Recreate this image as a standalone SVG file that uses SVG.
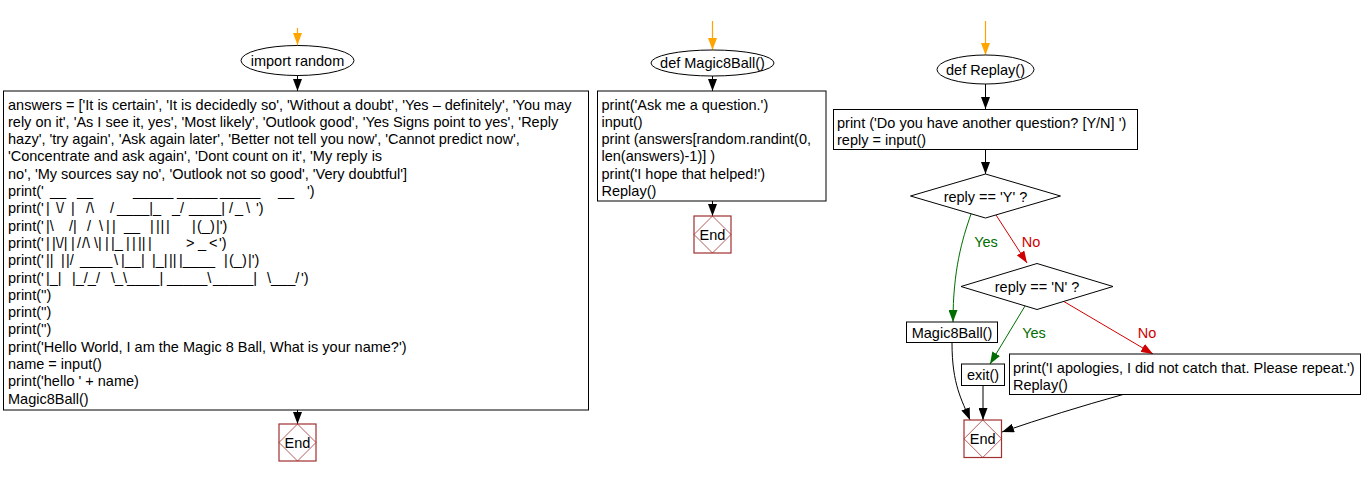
<svg xmlns="http://www.w3.org/2000/svg" width="1369" height="477" viewBox="0 0 1369 477">
<style>
text{font-family:"Liberation Sans",Arial,sans-serif;font-size:14.5px;fill:#000;white-space:pre}
.c{text-anchor:middle}
.box{fill:#fff;stroke:#000;stroke-width:1}
.end{fill:#fff;stroke:#a03030;stroke-width:1.2}
.endd{fill:none;stroke:#a03030;stroke-width:0.8}
.k{fill:none;stroke:#000;stroke-width:1}
.o{fill:none;stroke:#ffa500;stroke-width:1.2}
.g{fill:none;stroke:#006e00;stroke-width:1}
.r{fill:none;stroke:#d00000;stroke-width:1}
.gt{fill:#006e00}
.rt{fill:#d00000}
</style>
<defs>
<marker id="mk" viewBox="0 0 12 9" refX="12" refY="4.5" markerWidth="12" markerHeight="9" markerUnits="userSpaceOnUse" orient="auto"><path d="M0,0 L12,4.5 L0,9 z" fill="#000"/></marker>
<marker id="mo" viewBox="0 0 12 9" refX="12" refY="4.5" markerWidth="12" markerHeight="9" markerUnits="userSpaceOnUse" orient="auto"><path d="M0,0 L12,4.5 L0,9 z" fill="#ffa500"/></marker>
<marker id="mg" viewBox="0 0 12 9" refX="12" refY="4.5" markerWidth="12" markerHeight="9" markerUnits="userSpaceOnUse" orient="auto"><path d="M0,0 L12,4.5 L0,9 z" fill="#006e00"/></marker>
<marker id="mr" viewBox="0 0 12 9" refX="12" refY="4.5" markerWidth="12" markerHeight="9" markerUnits="userSpaceOnUse" orient="auto"><path d="M0,0 L12,4.5 L0,9 z" fill="#d00000"/></marker>
</defs>
<rect width="1369" height="477" fill="#fff"/>

<g id="connectors">
<path class="o" d="M297.5,28 L297.5,45" marker-end="url(#mo)"/>
<path class="k" d="M297.5,75 L297.5,91" marker-end="url(#mk)"/>
<path class="k" d="M297.5,410 L297.5,424" marker-end="url(#mk)"/>
<path class="o" d="M712.5,21 L712.5,50" marker-end="url(#mo)"/>
<path class="k" d="M712.5,76 L712.5,91" marker-end="url(#mk)"/>
<path class="k" d="M712.5,201 L712.5,216" marker-end="url(#mk)"/>
<path class="o" d="M985.5,21 L985.5,55" marker-end="url(#mo)"/>
<path class="k" d="M985.5,84 L985.5,109" marker-end="url(#mk)"/>
<path class="k" d="M985.5,149 L985.5,174" marker-end="url(#mk)"/>
<path class="g" d="M971,214 C962,240 953,270 953,322" marker-end="url(#mg)"/>
<path class="r" d="M996,215 L1027,263" marker-end="url(#mr)"/>
<path class="g" d="M1025,306 L990,364" marker-end="url(#mg)"/>
<path class="r" d="M1063,301 L1153,354" marker-end="url(#mr)"/>
<path class="k" d="M952,343 C952,385 962,400 970,420" marker-end="url(#mk)"/>
<path class="k" d="M983,385.5 L983,420" marker-end="url(#mk)"/>
<path class="k" d="M1123,394.5 Q1060,412 1002,432" marker-end="url(#mk)"/>
<text class="c gt" x="986" y="247">Yes</text>
<text class="c rt" x="1031" y="247">No</text>
<text class="c gt" x="1034" y="338">Yes</text>
<text class="c rt" x="1147" y="338">No</text>
</g>

<g id="import_random">
<ellipse class="box" cx="297.5" cy="60.5" rx="56.5" ry="15"/>
<text class="c" x="297.5" y="66">import random</text>
</g>

<g id="main_code">
<rect class="box" x="3.5" y="91" width="585" height="319"/>
<text x="8" y="109.5">answers = ['It is certain', 'It is decidedly so', 'Without a doubt', 'Yes – definitely', 'You may</text>
<text x="8" y="126.8">rely on it', 'As I see it, yes', 'Most likely', 'Outlook good', 'Yes Signs point to yes', 'Reply</text>
<text x="8" y="144.1">hazy', 'try again', 'Ask again later', 'Better not tell you now', 'Cannot predict now',</text>
<text x="8" y="161.4">'Concentrate and ask again', 'Dont count on it', 'My reply is</text>
<text x="8" y="178.7">no', 'My sources say no', 'Outlook not so good', 'Very doubtful']</text>
<text y="196"><tspan x="8">print('</tspan><tspan x="50">__</tspan><tspan x="77">__</tspan><tspan x="133">_____</tspan><tspan x="177">_____</tspan><tspan x="220">_____</tspan><tspan x="278">__</tspan><tspan x="307">')</tspan></text>
<text y="213.3"><tspan x="8">print('</tspan><tspan x="46">|</tspan><tspan x="56">\/</tspan><tspan x="71">|</tspan><tspan x="86">/\</tspan><tspan x="110">/</tspan><tspan x="117">____|_</tspan><tspan x="172">_/</tspan><tspan x="189">____|</tspan><tspan x="229">/</tspan><tspan x="235">_</tspan><tspan x="246">\</tspan><tspan x="256">')</tspan></text>
<text y="230.6"><tspan x="8">print('</tspan><tspan x="46">|\</tspan><tspan x="69">/|</tspan><tspan x="87">/</tspan><tspan x="99">\</tspan><tspan x="106">|</tspan><tspan x="112">|</tspan><tspan x="124">__</tspan><tspan x="150">|</tspan><tspan x="156">|</tspan><tspan x="160.5">|</tspan><tspan x="166">|</tspan><tspan x="192">|</tspan><tspan x="197">(_)</tspan><tspan x="216">|')</tspan></text>
<text y="247.9"><tspan x="8">print('</tspan><tspan x="46">|</tspan><tspan x="52">|\/|</tspan><tspan x="71">|</tspan><tspan x="77">/</tspan><tspan x="82">/\</tspan><tspan x="94">\|</tspan><tspan x="105">|</tspan><tspan x="111">|_</tspan><tspan x="126">|</tspan><tspan x="132">|</tspan><tspan x="138">||</tspan><tspan x="148">|</tspan><tspan x="186">&gt;</tspan><tspan x="198">_</tspan><tspan x="209">&lt;</tspan><tspan x="219">')</tspan></text>
<text y="265.2"><tspan x="8">print('</tspan><tspan x="46">||</tspan><tspan x="61">|</tspan><tspan x="66">|/</tspan><tspan x="80">____</tspan><tspan x="114">\</tspan><tspan x="121">|__|</tspan><tspan x="152">|_|</tspan><tspan x="169">||</tspan><tspan x="179">|____</tspan><tspan x="224">|</tspan><tspan x="229">(_)</tspan><tspan x="248">|')</tspan></text>
<text y="282.5"><tspan x="8">print('</tspan><tspan x="46">|_|</tspan><tspan x="72">|_/_/</tspan><tspan x="111">\_\____|</tspan><tspan x="167">_____\</tspan><tspan x="213">_____|</tspan><tspan x="267">\___/</tspan><tspan x="301">')</tspan></text>
<text x="8" y="299.8">print('')</text>
<text x="8" y="317.1">print('')</text>
<text x="8" y="334.4">print('')</text>
<text x="8" y="351.7">print('Hello World, I am the Magic 8 Ball, What is your name?')</text>
<text x="8" y="369">name = input()</text>
<text x="8" y="386.3">print('hello ' + name)</text>
<text x="8" y="403.6">Magic8Ball()</text>
</g>

<g id="end1">
<rect class="end" x="279" y="424" width="37" height="37"/>
<path class="endd" d="M297.5,424 L316,442.5 L297.5,461 L279,442.5 Z"/>
<text class="c" x="297.5" y="448">End</text>
</g>

<g id="def_magic8ball">
<ellipse class="box" cx="712.5" cy="63" rx="61.5" ry="13"/>
<text class="c" x="712.5" y="68">def Magic8Ball()</text>
</g>

<g id="magic8ball_code">
<rect class="box" x="597.5" y="91" width="228.5" height="110"/>
<text x="601.5" y="109.5">print('Ask me a question.')</text>
<text x="601.5" y="126.8">input()</text>
<text x="601.5" y="144.1">print (answers[random.randint(0,</text>
<text x="601.5" y="161.4">len(answers)-1)] )</text>
<text x="601.5" y="178.7">print('I hope that helped!')</text>
<text x="601.5" y="196">Replay()</text>
</g>

<g id="end2">
<rect class="end" x="694" y="216" width="37" height="37"/>
<path class="endd" d="M712.5,216 L731,234.5 L712.5,253 L694,234.5 Z"/>
<text class="c" x="712.5" y="240">End</text>
</g>

<g id="def_replay">
<ellipse class="box" cx="985.5" cy="69.5" rx="48.5" ry="14.5"/>
<text class="c" x="985.5" y="75">def Replay()</text>
</g>

<g id="replay_code">
<rect class="box" x="833.5" y="109.5" width="304" height="40"/>
<text x="837" y="127.5">print ('Do you have another question? [Y/N] ')</text>
<text x="837" y="144.8">reply = input()</text>
</g>

<g id="cond_y">
<path class="box" d="M910.5,196 L985.5,174 L1060.5,196 L985.5,218 Z"/>
<text class="c" x="985.5" y="202">reply == 'Y' ?</text>
</g>

<g id="cond_n">
<path class="box" d="M961,286.5 L1037,263.5 L1113,286.5 L1037,309.5 Z"/>
<text class="c" x="1037" y="292">reply == 'N' ?</text>
</g>

<g id="call_magic8ball">
<rect class="box" x="906.5" y="322" width="91" height="20.5"/>
<text class="c" x="952" y="337.5">Magic8Ball()</text>
</g>

<g id="exit">
<rect class="box" x="961.5" y="364" width="43" height="21.5"/>
<text class="c" x="983" y="380">exit()</text>
</g>

<g id="apology">
<rect class="box" x="1009.5" y="354" width="351" height="40.5"/>
<text x="1013" y="372.5">print('I apologies, I did not catch that. Please repeat.')</text>
<text x="1013" y="389.8">Replay()</text>
</g>

<g id="end3">
<rect class="end" x="964" y="420" width="37.5" height="37.5"/>
<path class="endd" d="M982.75,420 L1001.5,438.75 L982.75,457.5 L964,438.75 Z"/>
<text class="c" x="982.75" y="444">End</text>
</g>
</svg>
